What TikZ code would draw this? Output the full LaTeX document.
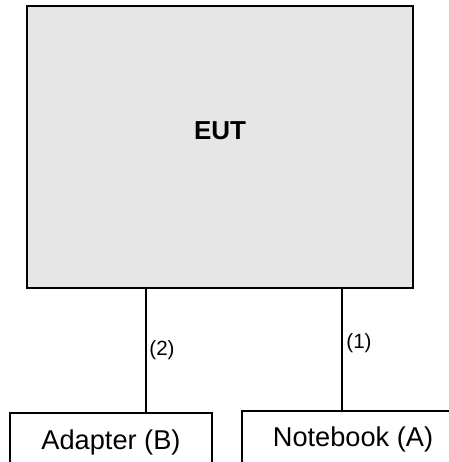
\documentclass[tikz,border=0pt]{standalone}
\usepackage{fontspec}
\setmainfont{Liberation Sans}
\usepackage{xcolor}
\usepackage{tikz}
\definecolor{eutgray}{HTML}{E6E6E6}

\begin{document}
\begin{tikzpicture}[x=.5pt,y=-.5pt,line width=.75pt,
  unitbox/.style={draw,rectangle,inner sep=0pt,font=\fontsize{13.6}{16}\selectfont}]
\useasboundingbox (0,0) rectangle (449,462);

\node[unitbox,fill=eutgray,minimum width=193pt,minimum height=141pt] (eut) at (220,147) {};
\node[font=\fontsize{13}{15}\selectfont\bfseries] (euttext) at (220,131) {EUT};

\node[unitbox,minimum width=101pt,minimum height=29pt] (adapter) at (111,442) {Adapter (B)};
\node[unitbox,minimum width=111pt,minimum height=28pt] (notebook) at (353,439) {Notebook (A)};

% cables
\coordinate (c2) at (146,288);
\coordinate (c1) at (342,288);
\draw (c2) -- (c2 |- adapter.north);
\draw (c1) -- (c1 |- notebook.north);
\node[font=\fontsize{10.3}{12}\selectfont] (l2) at (162,350) {(2)};
\node[font=\fontsize{10.3}{12}\selectfont] (l1) at (359,343) {(1)};
\end{tikzpicture}
\end{document}
